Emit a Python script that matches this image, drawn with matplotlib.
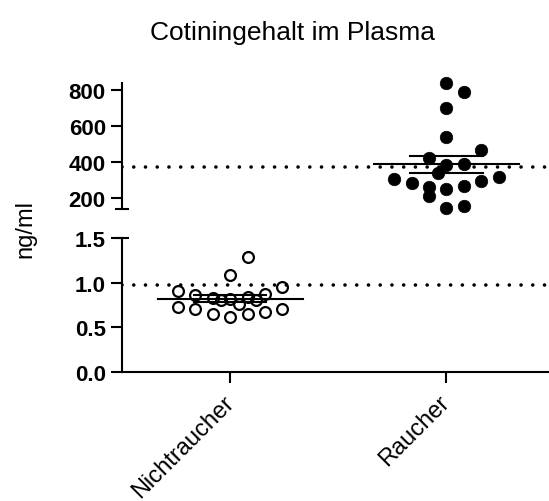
import matplotlib
matplotlib.use("Agg")
import matplotlib.pyplot as plt
from matplotlib import font_manager as fm
import numpy as np

plt.rcParams['font.family'] = ['Liberation Sans', 'DejaVu Sans']

# Plasma cotinine (ng/ml) per subject
categories = ["Nichtraucher", "Raucher"]
nichtraucher = [0.90, 0.73, 0.86, 0.70, 0.83, 0.65, 0.80, 1.09, 0.82, 0.61,
                0.76, 1.29, 0.84, 0.65, 0.81, 0.87, 0.67, 0.95, 0.70]
raucher = [307, 284, 423, 260, 211, 340, 835, 697, 537, 384,
           251, 145, 786, 388, 266, 159, 467, 297, 319]
# detection limits drawn as dotted reference lines
limit_nicht = 0.97
limit_raucher = 370

# column slot of each point within its scatter spread
nicht_slot = [-6, -6, -4, -4, -2, -2, -1, 0, 0, 0, 1, 2, 2, 2, 3, 4, 4, 6, 6]
raucher_slot = [-6, -4, -2, -2, -2, -1, 0, 0, 0, 0, 0, 0, 2, 2, 2, 2, 4, 4, 6]

top_ticks = [200, 400, 600, 800]
bottom_ticks = [0.0, 0.5, 1.0, 1.5]


def bold_sans(size):
    """Regular-width Liberation Sans Bold (avoid the Narrow variant)."""
    for f in fm.fontManager.ttflist:
        name = f.fname.replace("\\", "/").split("/")[-1].lower()
        if name.startswith("liberationsans-bold."):
            return fm.FontProperties(fname=f.fname, size=size)
    return fm.FontProperties(family="Liberation Sans", weight="bold", size=size)


W, H = 549, 502
fig = plt.figure(figsize=(W / 100, H / 100), dpi=100)

left = 122 / W
width = 1 - left
ax_top = fig.add_axes([left, 1 - 210 / H, width, (210 - 84) / H])
ax_bot = fig.add_axes([left, 1 - 372.7 / H, width, (372.7 - 239) / H])

XLIM = (0.5, 2.474)
SLOT = 0.0401
LW = 1.5
tick_fp = bold_sans(16)

for ax in (ax_top, ax_bot):
    ax.set_xlim(*XLIM)
    ax.patch.set_alpha(0)
    for s in ("top", "right"):
        ax.spines[s].set_visible(False)
    ax.spines["left"].set_linewidth(LW)
    ax.spines["bottom"].set_linewidth(LW)
    ax.tick_params(axis="both", width=LW, length=7.7, pad=4)

ax_top.set_ylim(140, 837)
ax_bot.set_ylim(0, 1.5)

ax_top.spines["bottom"].set_visible(False)
ax_top.set_xticks([])
ax_top.set_yticks(top_ticks)
ax_top.set_yticklabels([str(t) for t in top_ticks], fontproperties=tick_fp)

ax_bot.set_yticks(bottom_ticks)
ax_bot.set_yticklabels([f"{t:.1f}" for t in bottom_ticks], fontproperties=tick_fp)
ax_bot.set_xticks([1, 2])
ax_bot.set_xticklabels(categories, rotation=45, ha="right", va="center",
                       rotation_mode="anchor", fontsize=17)
ax_bot.tick_params(axis="x", pad=12)

# axis break caps
ax_top.plot([0], [0], transform=ax_top.transAxes, marker="_", ms=10, mew=LW,
            color="black", clip_on=False)
ax_bot.plot([0], [1], transform=ax_bot.transAxes, marker="_", ms=10, mew=LW,
            color="black", clip_on=False)

dot_style = dict(color="black", lw=2.6, linestyle=(0, (0.01, 3.24)),
                 dash_capstyle="round")
ax_bot.axhline(limit_nicht, **dot_style)
ax_top.axhline(limit_raucher, **dot_style)


def draw_group(ax, xc, values, slots, filled):
    vals = np.asarray(values, dtype=float)
    xs = xc + np.asarray(slots) * SLOT
    if filled:
        ax.plot(xs, vals, "o", ms=9.0, mfc="black", mec="black", mew=0.5,
                ls="none", clip_on=False, zorder=3)
    else:
        ax.plot(xs, vals, "o", ms=7.8, mfc="none", mec="black", mew=1.6,
                ls="none", clip_on=False, zorder=3)
    m = vals.mean()
    sem = vals.std(ddof=1) / np.sqrt(len(vals))
    ax.plot([xc - 0.335, xc + 0.335], [m, m], color="black", lw=LW, zorder=4)
    for v in (m - sem, m + sem):
        ax.plot([xc - 0.167, xc + 0.167], [v, v], color="black", lw=LW, zorder=4)


draw_group(ax_bot, 1, nichtraucher, nicht_slot, filled=False)
draw_group(ax_top, 2, raucher, raucher_slot, filled=True)

fig.text(293 / W, 1 - 33 / H, "Cotiningehalt im Plasma", ha="center",
         va="center", fontsize=19)
fig.text(25 / W, 1 - 229 / H, "ng/ml", rotation=90, ha="center", va="center",
         fontsize=17)

fig.savefig("out.png", dpi=100)
